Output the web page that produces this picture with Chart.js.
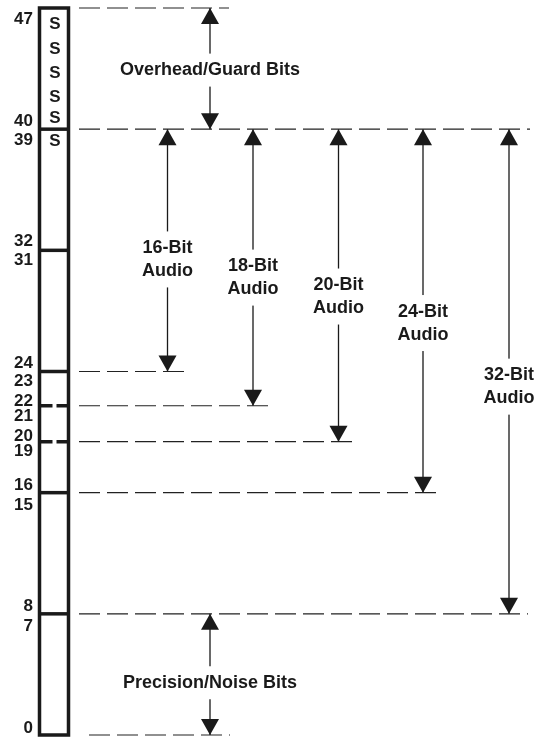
<!DOCTYPE html>
<html>
<head>
<meta charset="utf-8">
<script src="https://cdn.jsdelivr.net/npm/chart.js@4.4.1/dist/chart.umd.min.js"></script>
<style>
    html, body { margin: 0; padding: 0; background: #fff; }
    #wrap { width: 536px; height: 738px; }
</style>
</head>
<body>
<div id="wrap"><canvas id="audioWordChart"></canvas></div>
<script>
// bit numbers printed beside the word and where they sit (bit units)
const bitLabels = ['47', '40', '39', '32', '31', '24', '23', '22', '21', '20', '19', '16', '15', '8', '7', '0'];
const bitLabelPos = [47.27, 40.5, 39.25, 32.57, 31.36, 24.56, 23.33, 22.0, 21.02, 19.75, 18.71, 16.5, 15.18, 8.52, 7.2, 0.44];

// the 48-bit word itself
const wordTop = 48;
const wordBottom = 0;
const wordLeft = 1.5;
const wordRight = 30.5;
const solidBounds = [40, 32, 24, 16, 8];
// 22|21 and 20|19 splits, drawn where the figure places them
const dashedBounds = [21.74, 19.37];
const signBitX = 17;
const signBitPos = [46.9, 45.3, 43.7, 42.1, 40.7, 39.2];

// dashed guides: level, start, end
const guideLevels = [48, 40, 24, 21.74, 19.37, 16, 8, 0];
const guideStarts = [41, 41, 41, 41, 41, 41, 41, 51];
const guideEnds = [191, 492, 152, 235, 319, 403, 490, 192];

// range arrows
const rangeNames = [
    ['Overhead/Guard Bits'],
    ['16-Bit', 'Audio'],
    ['18-Bit', 'Audio'],
    ['20-Bit', 'Audio'],
    ['24-Bit', 'Audio'],
    ['32-Bit', 'Audio'],
    ['Precision/Noise Bits']
];
const rangeX = [172, 129.5, 215, 300.5, 385, 471, 172];
const rangeTop = [48, 40, 40, 40, 40, 40, 8];
const rangeBottom = [40, 24, 21.74, 19.37, 16, 8, 0];
const rangeLabelY = [43.9, 31.4, 30.2, 28.95, 27.2, 23.0, 3.45];

const ink = '#1a1a1a';
const fontFamily = '"Liberation Sans", Arial, Helvetica, sans-serif';

const lineSet = (data, extra) => Object.assign({
    data,
    borderColor: ink,
    borderWidth: 1.2,
    pointRadius: 0,
    fill: false,
    tension: 0,
    clip: false
}, extra);

const datasets = [];

datasets.push(lineSet([
    { x: wordLeft, y: wordBottom },
    { x: wordLeft, y: wordTop },
    { x: wordRight, y: wordTop },
    { x: wordRight, y: wordBottom },
    { x: wordLeft, y: wordBottom }
], { borderWidth: 3.5, borderJoinStyle: 'miter', borderCapStyle: 'square' }));

solidBounds.forEach(v => {
    datasets.push(lineSet([{ x: wordLeft, y: v }, { x: wordRight, y: v }], { borderWidth: 3.5 }));
});

dashedBounds.forEach(v => {
    datasets.push(lineSet([{ x: wordLeft, y: v }, { x: wordRight, y: v }], { borderWidth: 3.5, borderDash: [13, 4] }));
});

guideLevels.forEach((v, i) => {
    datasets.push(lineSet([{ x: guideStarts[i], y: v }, { x: guideEnds[i], y: v }], {
        borderColor: '#222',
        borderWidth: 1.2,
        borderDash: [21, 7]
    }));
});

rangeX.forEach((xv, i) => {
    datasets.push(lineSet([{ x: xv, y: rangeTop[i] }, { x: xv, y: rangeBottom[i] }], { arrow: true, borderWidth: 1.3 }));
});

// filled heads at both ends of each range arrow
const arrowHeads = {
    id: 'arrowHeads',
    afterDatasetsDraw(chart) {
        const ctx = chart.ctx;
        const headW = 9;
        const headH = 16;
        ctx.save();
        ctx.fillStyle = ink;
        chart.data.datasets.forEach((ds, i) => {
            if (!ds.arrow) return;
            const pts = chart.getDatasetMeta(i).data;
            const top = pts[0];
            const bottom = pts[pts.length - 1];
            ctx.beginPath();
            ctx.moveTo(top.x, top.y);
            ctx.lineTo(top.x - headW, top.y + headH);
            ctx.lineTo(top.x + headW, top.y + headH);
            ctx.closePath();
            ctx.fill();
            ctx.beginPath();
            ctx.moveTo(bottom.x, bottom.y);
            ctx.lineTo(bottom.x - headW, bottom.y - headH);
            ctx.lineTo(bottom.x + headW, bottom.y - headH);
            ctx.closePath();
            ctx.fill();
        });
        ctx.restore();
    }
};

const figureText = {
    id: 'figureText',
    afterDatasetsDraw(chart) {
        const { ctx, scales: { x, y } } = chart;
        ctx.save();
        ctx.textAlign = 'center';
        ctx.textBaseline = 'middle';
        ctx.fillStyle = ink;
        ctx.font = `bold 17px ${fontFamily}`;
        signBitPos.forEach(v => ctx.fillText('S', x.getPixelForValue(signBitX), y.getPixelForValue(v)));

        ctx.font = `bold 18px ${fontFamily}`;
        const lh = 23;
        rangeNames.forEach((lines, i) => {
            const cx = x.getPixelForValue(rangeX[i]);
            const cy = y.getPixelForValue(rangeLabelY[i]);
            const w = Math.max(...lines.map(t => ctx.measureText(t).width));
            const h = lines.length * lh + 10;
            ctx.fillStyle = '#fff';
            ctx.fillRect(cx - w / 2 - 2, cy - h / 2, w + 4, h);
            ctx.fillStyle = ink;
            lines.forEach((t, k) => ctx.fillText(t, cx, cy + (k - (lines.length - 1) / 2) * lh));
        });
        ctx.restore();
    }
};

new Chart(document.getElementById('audioWordChart').getContext('2d'), {
    type: 'line',
    data: { datasets },
    options: {
        responsive: true,
        maintainAspectRatio: false,
        animation: false,
        events: [],
        layout: { padding: { top: 8, bottom: 3, left: 0, right: 0 } },
        plugins: {
            legend: { display: false },
            tooltip: { enabled: false }
        },
        scales: {
            x: {
                type: 'linear',
                min: 0,
                max: 498,
                display: false
            },
            y: {
                type: 'linear',
                min: wordBottom,
                max: wordTop,
                grid: { display: false, drawTicks: false },
                border: { display: false },
                afterBuildTicks: (scale) => {
                    scale.ticks = bitLabelPos.map(v => ({ value: v }));
                },
                afterFit: (scale) => {
                    scale.width = 38;
                    scale.paddingTop = 0;
                    scale.paddingBottom = 0;
                },
                ticks: {
                    autoSkip: false,
                    padding: 5,
                    color: ink,
                    font: { family: fontFamily, size: 17, weight: 'bold' },
                    callback: (value, idx) => bitLabels[idx]
                }
            }
        }
    },
    plugins: [arrowHeads, figureText]
});
</script>
</body>
</html>
